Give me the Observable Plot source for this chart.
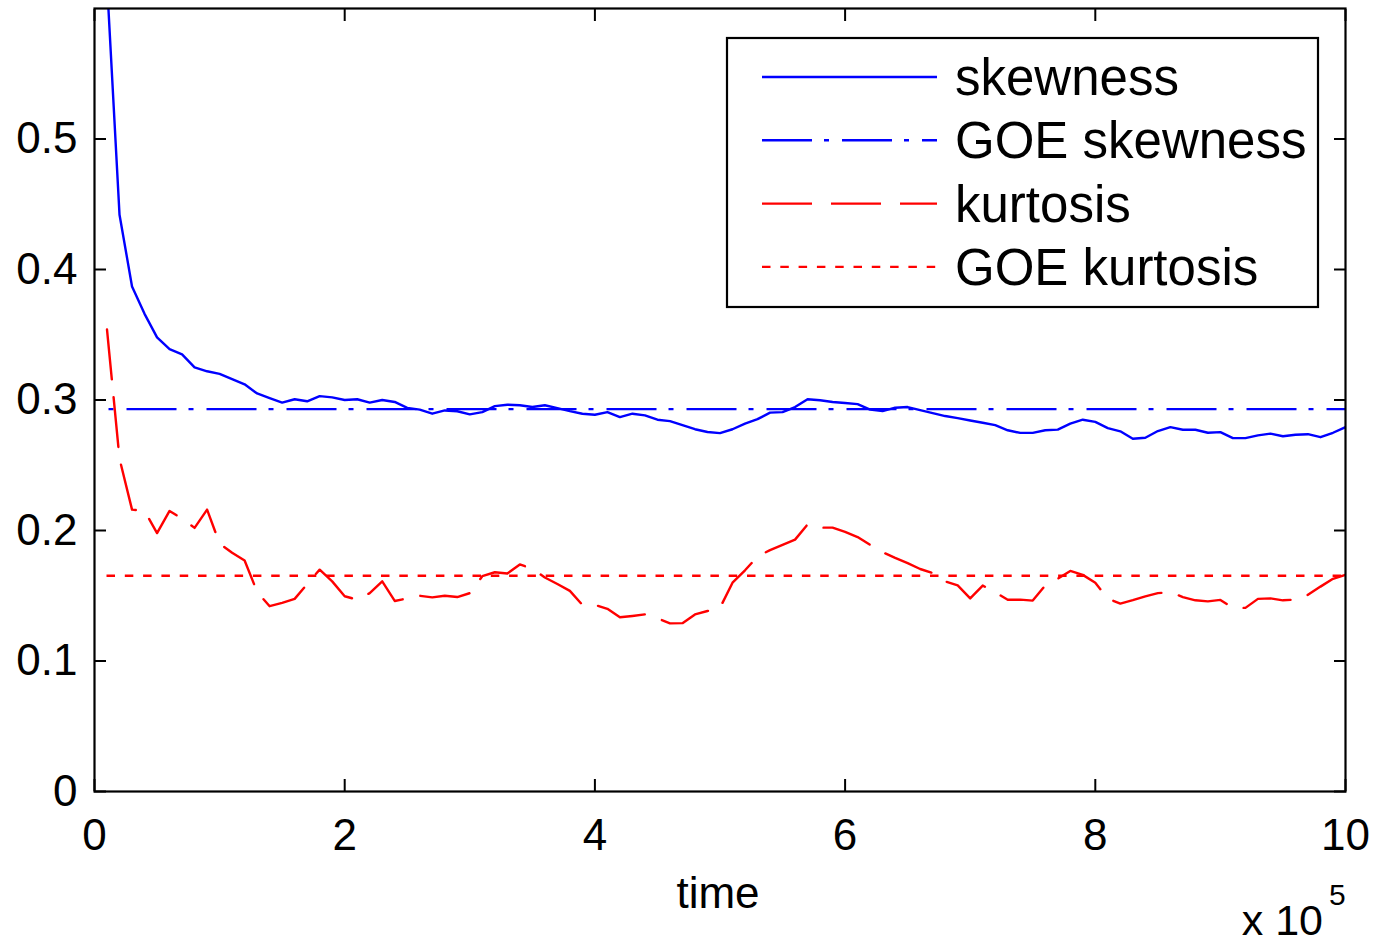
<!DOCTYPE html>
<html>
<head>
<meta charset="utf-8">
<script src="https://cdn.jsdelivr.net/npm/d3@7"></script>
<script src="https://cdn.jsdelivr.net/npm/@observablehq/plot@0.6"></script>
<style>
  html, body { margin: 0; padding: 0; background: #fff; }
  #chart svg { display: block; }
</style>
</head>
<body>
<div id="chart"></div>
<script>
// ---- data (time in units of 1e5) ----
const time = [0.1,0.2,0.3,0.4,0.5,0.6,0.7,0.8,0.9,1.0,
  1.1,1.2,1.3,1.4,1.5,1.6,1.7,1.8,1.9,2.0,
  2.1,2.2,2.3,2.4,2.5,2.6,2.7,2.8,2.9,3.0,
  3.1,3.2,3.3,3.4,3.5,3.6,3.7,3.8,3.9,4.0,
  4.1,4.2,4.3,4.4,4.5,4.6,4.7,4.8,4.9,5.0,
  5.1,5.2,5.3,5.4,5.5,5.6,5.7,5.8,5.9,6.0,
  6.1,6.2,6.3,6.4,6.5,6.6,6.7,6.8,6.9,7.0,
  7.1,7.2,7.3,7.4,7.5,7.6,7.7,7.8,7.9,8.0,
  8.1,8.2,8.3,8.4,8.5,8.6,8.7,8.8,8.9,9.0,
  9.1,9.2,9.3,9.4,9.5,9.6,9.7,9.8,9.9,10.0];

const skewness = [0.62,0.442,0.387,0.366,0.348,0.339,0.335,0.325,0.322,0.320,
  0.316,0.312,0.305,0.3015,0.298,0.3006,0.299,0.303,0.302,0.300,
  0.3006,0.298,0.300,0.2985,0.294,0.2926,0.2895,0.292,0.2914,0.289,
  0.2907,0.2953,0.2964,0.296,0.2946,0.296,0.2938,0.2915,0.2895,0.2887,
  0.2907,0.2869,0.2895,0.2882,0.2849,0.2838,0.2807,0.2776,0.2755,0.2746,
  0.2776,0.2819,0.2853,0.2903,0.2907,0.2946,0.3006,0.2998,0.2985,0.2977,
  0.2968,0.2926,0.2915,0.2941,0.2946,0.2922,0.290,0.2877,0.2861,0.2843,
  0.2826,0.2807,0.2768,0.2748,0.2748,0.2768,0.2773,0.2819,0.2849,0.2832,
  0.2785,0.276,0.2703,0.2711,0.2762,0.2792,0.2772,0.2772,0.2749,0.2754,
  0.2708,0.2708,0.2729,0.2742,0.2722,0.2734,0.2738,0.2715,0.2749,0.2792];

const kurtosis = [0.354,0.255,0.216,0.215,0.198,0.215,0.209,0.202,0.216,0.190,
  0.183,0.177,0.153,0.142,0.1446,0.1476,0.159,0.170,0.161,0.1496,
  0.147,0.152,0.161,0.146,0.148,0.150,0.1488,0.150,0.149,0.152,
  0.165,0.168,0.167,0.174,0.1706,0.164,0.159,0.1537,0.143,0.143,
  0.140,0.1335,0.1345,0.1357,0.1327,0.1288,0.129,0.1357,0.1383,0.1407,
  0.160,0.1695,0.180,0.185,0.189,0.193,0.2047,0.2022,0.2022,0.199,
  0.195,0.189,0.1834,0.179,0.175,0.1705,0.1674,0.161,0.158,0.148,
  0.1578,0.1526,0.1469,0.147,0.1463,0.158,0.163,0.169,0.166,0.160,
  0.1478,0.144,0.1466,0.1495,0.152,0.1527,0.149,0.1465,0.1457,0.1468,
  0.1407,0.1407,0.1476,0.148,0.1465,0.147,0.1507,0.157,0.163,0.166];

const goeSkewness = 0.2930;
const goeKurtosis = 0.1653;
const goeSpan = [0.1, 10];   // time range of the GOE reference lines

const xTicks = [0, 2, 4, 6, 8, 10];
const yTicks = [0, 0.1, 0.2, 0.3, 0.4, 0.5];
const legendLabels = ["skewness", "GOE skewness", "kurtosis", "GOE kurtosis"];

// ---- table for the marks ----
const rows = time.map((t, i) => ({t, skew: skewness[i], kurt: kurtosis[i]}));
const goeRows = [{x1: goeSpan[0], x2: goeSpan[1], s: goeSkewness, k: goeKurtosis}];

const FONT = "'Liberation Sans', Arial, Helvetica, sans-serif";
const BLUE = "#0000ff", RED = "#ff0000";
const LW = 2.4;
const yFmt = d => d === 0 ? "0" : d.toFixed(1);

const chart = Plot.plot({
  width: 1375,
  height: 946,
  marginLeft: 94,
  marginRight: 30,
  marginTop: 8,
  marginBottom: 155,
  style: {fontFamily: FONT, background: "white", color: "black"},
  x: {domain: [0, 10]},
  y: {domain: [0, 0.6]},
  marks: [
    Plot.ruleY(goeRows, {y: "s", x1: "x1", x2: "x2", stroke: BLUE, strokeWidth: LW, strokeDasharray: "50,12,5,13", strokeDashoffset: -20}),
    Plot.ruleY(goeRows, {y: "k", x1: "x1", x2: "x2", stroke: RED, strokeWidth: LW, strokeDasharray: "8.5,9.8"}),
    Plot.line(rows, {x: "t", y: "skew", stroke: BLUE, strokeWidth: LW, clip: true}),
    Plot.line(rows, {x: "t", y: "kurt", stroke: RED, strokeWidth: LW, strokeDasharray: "50,18", clip: true}),
    // tick labels
    Plot.axisX({anchor: "bottom", ticks: xTicks, tickSize: 0, tickPadding: 27, fontSize: 44, tickFormat: d => String(d)}),
    Plot.axisY({anchor: "left", ticks: yTicks, tickSize: 0, tickPadding: 17, fontSize: 44, tickFormat: yFmt}),
    // inward ticks on all four sides
    Plot.axisX({anchor: "bottom", ticks: xTicks, tickSize: -12, strokeWidth: 2, tickFormat: () => ""}),
    Plot.axisX({anchor: "top", ticks: xTicks, tickSize: -12, strokeWidth: 2, tickFormat: () => ""}),
    Plot.axisY({anchor: "left", ticks: yTicks, tickSize: -12, strokeWidth: 2, tickFormat: () => ""}),
    Plot.axisY({anchor: "right", ticks: yTicks, tickSize: -12, strokeWidth: 2, tickFormat: () => ""}),
    Plot.frame({stroke: "black", strokeWidth: 2.2})
  ]
});

const svg = d3.select(chart);
svg.selectAll("[aria-label='x-axis label'], [aria-label='y-axis label']").remove();

// axis title and exponent
svg.append("text").attr("x", 718).attr("y", 908).attr("text-anchor", "middle")
  .attr("font-family", FONT).attr("font-size", 44).attr("fill", "black").text("time");
svg.append("text").attr("x", 1323).attr("y", 935).attr("text-anchor", "end")
  .attr("font-family", FONT).attr("font-size", 43).attr("fill", "black").text("x 10");
svg.append("text").attr("x", 1329).attr("y", 905).attr("text-anchor", "start")
  .attr("font-family", FONT).attr("font-size", 30).attr("fill", "black").text("5");

// legend
const styles = [
  {stroke: BLUE, dash: null},
  {stroke: BLUE, dash: "50,12,5,13"},
  {stroke: RED, dash: "50,19"},
  {stroke: RED, dash: "8.5,9.8"}
];
const lg = svg.append("g").attr("class", "legend");
lg.append("rect").attr("x", 727).attr("y", 38).attr("width", 591).attr("height", 269)
  .attr("fill", "white").attr("stroke", "black").attr("stroke-width", 2.2);
legendLabels.forEach((lab, i) => {
  const cy = 77 + i * 63.3;
  lg.append("line").attr("x1", 762).attr("x2", 937).attr("y1", cy).attr("y2", cy)
    .attr("stroke", styles[i].stroke).attr("stroke-width", LW)
    .attr("stroke-dasharray", styles[i].dash);
  lg.append("text").attr("x", 955).attr("y", cy + 18).attr("text-anchor", "start")
    .attr("font-family", FONT).attr("font-size", 51).attr("fill", "black").text(lab);
});

document.getElementById("chart").appendChild(chart);
</script>
</body>
</html>
